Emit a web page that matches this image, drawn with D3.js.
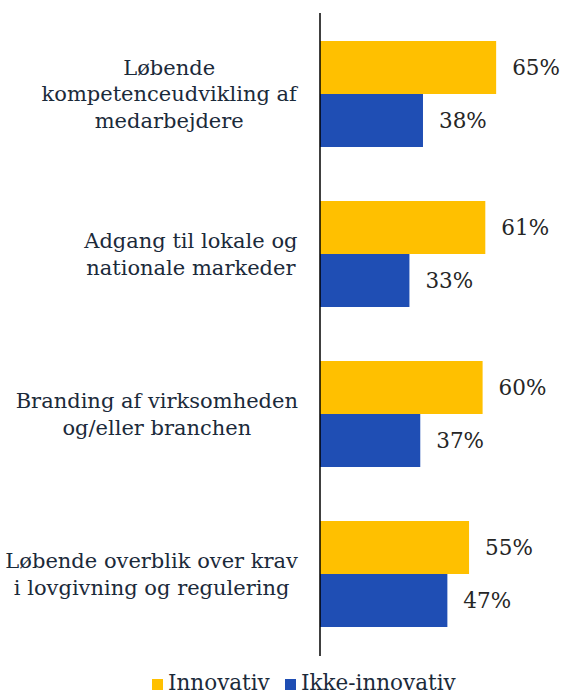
<!DOCTYPE html>
<html>
<head>
<meta charset="utf-8">
<script src="https://cdn.jsdelivr.net/npm/d3@7"></script>
<style>
  html, body { margin: 0; padding: 0; background: #fff; }
  svg { display: block; }
</style>
</head>
<body>
<svg id="chart" width="564" height="694"></svg>
<script>
const categories = [
  ["Løbende", "kompetenceudvikling af", "medarbejdere"],
  ["Adgang til lokale og", "nationale markeder"],
  ["Branding af virksomheden", "og/eller branchen"],
  ["Løbende overblik over krav", "i lovgivning og regulering"]
];
const seriesNames = ["Innovativ", "Ikke-innovativ"];
const innovativ = [65, 61, 60, 55];
const ikkeInnovativ = [38, 33, 37, 47];
const seriesColors = ["#FFC000", "#1F4EB4"];

const FONT = "'DejaVu Serif', Georgia, serif";
const svg = d3.select("#chart");
const catKeys = categories.map(c => c.join(" "));

const x = d3.scaleLinear().domain([0, 100]).range([320, 591]);
const y = d3.scaleBand().domain(catKeys).range([14, 654])
  .paddingInner(0.3375).paddingOuter(0.16875);
const ys = d3.scaleBand().domain(seriesNames).range([0, y.bandwidth()]);

const values = [innovativ, ikkeInnovativ];
const rows = [];
catKeys.forEach((k, i) => seriesNames.forEach((s, j) => rows.push({cat: k, s, v: values[j][i], j})));

svg.append("g").selectAll("rect").data(rows).join("rect")
  .attr("x", x(0))
  .attr("y", d => y(d.cat) + ys(d.s))
  .attr("width", d => x(d.v) - x(0))
  .attr("height", ys.bandwidth())
  .attr("fill", d => seriesColors[d.j]);

svg.append("g").selectAll("text").data(rows).join("text")
  .attr("x", d => x(d.v) + 16)
  .attr("y", d => y(d.cat) + ys(d.s) + ys.bandwidth() / 2)
  .attr("dy", "0.35em")
  .attr("font-family", FONT)
  .attr("font-size", 21.5)
  .attr("fill", "#262626")
  .text(d => d.v + "%");

// axis line
const axis = d3.axisLeft(y).tickSize(0).tickFormat("");
const ag = svg.append("g").attr("transform", `translate(${x(0)},0)`).call(axis);
ag.select(".domain").attr("stroke", "#000").attr("stroke-width", 1.5)
  .attr("d", `M0,13V656`);

// category labels
const lineH = 26.5;
const labG = svg.append("g");
categories.forEach((lines, i) => {
  const cy = y(catKeys[i]) + y.bandwidth() / 2;
  const t = labG.append("text")
    .attr("font-family", FONT)
    .attr("font-size", 21)
    .attr("fill", "#1B2A3A")
    .attr("text-anchor", "middle");
  const n = lines.length;
  lines.forEach((ln, k) => {
    t.append("tspan").attr("x", 0)
      .attr("y", cy + (k - (n - 1) / 2) * lineH)
      .attr("dy", "0.35em").text(ln);
  });
  const w = t.node().getBBox().width;
  t.attr("transform", `translate(${298 - w / 2},0)`);
});

// legend
const leg = svg.append("g").attr("font-family", FONT).attr("font-size", 21.5).attr("fill", "#1B2A3A");
const legX = [152, 285];
seriesNames.forEach((s, j) => {
  leg.append("rect").attr("x", legX[j]).attr("y", 679).attr("width", 11).attr("height", 11).attr("fill", seriesColors[j]);
  leg.append("text").attr("x", legX[j] + 16).attr("y", 690).text(s);
});
</script>
</body>
</html>
